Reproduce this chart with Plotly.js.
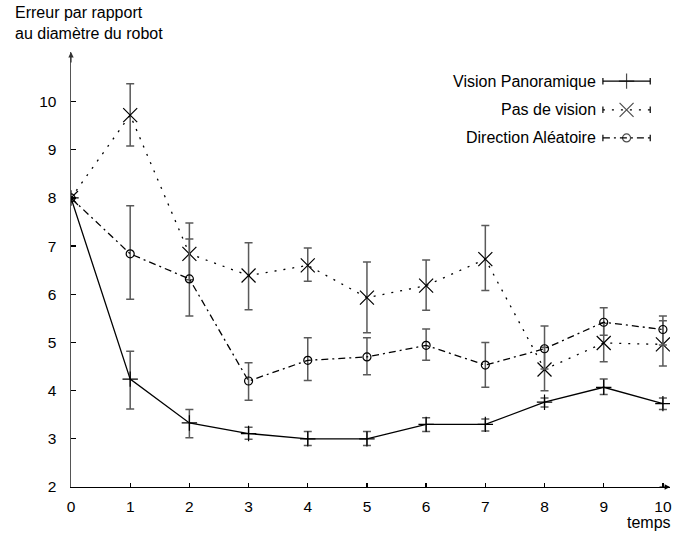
<!DOCTYPE html>
<html>
<head>
<meta charset="utf-8">
<script src="https://cdn.plot.ly/plotly-3.0.1.min.js"></script>
<style>html,body{margin:0;padding:0;background:#fff;}#chart{width:675px;height:533px;}</style>
</head>
<body>
<div id="chart"></div>
<script>
// ---- data ----
const temps = [0, 1, 2, 3, 4, 5, 6, 7, 8, 9, 10];
const xTickLabels = ["0","1","2","3","4","5","6","7","8","9","10"];
const yTickValues = [2, 3, 4, 5, 6, 7, 8, 9, 10];

const seriesNames = ["Vision Panoramique", "Pas de vision", "Direction Aléatoire"];

const visionY  = [8, 4.24, 3.33, 3.11, 3.00, 3.00, 3.30, 3.30, 3.76, 4.07, 3.73];
const visionLo = [8, 3.62, 3.02, 2.99, 2.86, 2.86, 3.15, 3.16, 3.66, 3.92, 3.61];
const visionHi = [8, 4.82, 3.61, 3.24, 3.15, 3.15, 3.44, 3.41, 3.85, 4.24, 3.85];

const pasY  = [8, 9.72, 6.84, 6.39, 6.60, 5.93, 6.18, 6.73, 4.44, 4.99, 4.96];
const pasLo = [8, 9.08, 6.30, 5.68, 6.27, 5.20, 5.67, 6.08, 4.00, 4.60, 4.51];
const pasHi = [8, 10.37, 7.15, 7.07, 6.96, 6.67, 6.71, 7.43, 4.90, 5.40, 5.45];

const dirY  = [8, 6.84, 6.32, 4.20, 4.63, 4.70, 4.94, 4.53, 4.87, 5.42, 5.27];
const dirLo = [8, 5.90, 5.55, 3.80, 4.21, 4.33, 4.63, 4.07, 4.45, 5.15, 4.95];
const dirHi = [8, 7.84, 7.48, 4.58, 5.10, 5.10, 5.28, 5.00, 5.34, 5.72, 5.55];

// ---- styles ----
const FONT = "Liberation Sans, Arial, Helvetica, sans-serif";
const TXT = 16, TICK = 15.5;
const errColor = "#5a5a5a";
const styles = [
  {dash: "solid", symbol: "cross-thin-open", size: 11},
  {dash: "2px,7px", symbol: "x-thin-open", size: 14},
  {dash: "7px,4px,2px,4px", symbol: "circle-open", size: 8}
];
const ys = [visionY, pasY, dirY];
const los = [visionLo, pasLo, dirLo];
const his = [visionHi, pasHi, dirHi];

const traces = [];
for (let i = 0; i < 3; i++) {
  traces.push({
    x: temps, y: ys[i], type: "scatter", mode: "lines+markers", name: seriesNames[i],
    line: {color: "#000", width: 1.3, dash: styles[i].dash},
    marker: {symbol: styles[i].symbol, size: styles[i].size, color: "#000",
             line: {color: "#000", width: 1.2}},
    error_y: {type: "data", symmetric: false,
              array: his[i].map((h, k) => h - ys[i][k]),
              arrayminus: los[i].map((l, k) => ys[i][k] - l),
              color: errColor, thickness: 1.5, width: 4},
    showlegend: false, hoverinfo: "skip"
  });
}

// ---- custom key (gnuplot style: text then sample) on an overlay axis in [0,1] ----
const keyRowsY = [0.933, 0.867, 0.8025];
const keyX0 = 0.888, keyX1 = 0.967, keyXm = (keyX0 + keyX1) / 2;
const capH = 0.0075;
const annotations = [];
for (let i = 0; i < 3; i++) {
  const ky = keyRowsY[i];
  traces.push({
    x: [keyX0, keyXm, keyX1], y: [ky, ky, ky], xaxis: "x2", yaxis: "y2",
    type: "scatter", mode: "lines+markers",
    line: {color: "#000", width: 1.2, dash: styles[i].dash},
    marker: {symbol: styles[i].symbol, size: [0, styles[i].size, 0], color: "#000",
             line: {color: "#000", width: 1.2}},
    showlegend: false, hoverinfo: "skip"
  });
  [keyX0, keyX1].forEach(cx => traces.push({
    x: [cx, cx], y: [ky - capH, ky + capH], xaxis: "x2", yaxis: "y2",
    type: "scatter", mode: "lines", line: {color: "#000", width: 1.2},
    showlegend: false, hoverinfo: "skip"
  }));
  annotations.push({
    xref: "paper", yref: "paper", x: 0.880, y: ky, xanchor: "right", yanchor: "middle",
    text: seriesNames[i], showarrow: false, font: {family: FONT, size: TXT, color: "#000"}
  });
}

// axis titles as free text (gnuplot placement)
annotations.push({xref: "paper", yref: "paper", x: -0.097, y: 1.091, xanchor: "left", yanchor: "middle",
  text: "Erreur par rapport", showarrow: false, font: {family: FONT, size: TXT, color: "#000"}});
annotations.push({xref: "paper", yref: "paper", x: -0.097, y: 1.043, xanchor: "left", yanchor: "middle",
  text: "au diamètre du robot", showarrow: false, font: {family: FONT, size: TXT, color: "#000"}});
annotations.push({xref: "paper", yref: "paper", x: 1.005, y: -0.082, xanchor: "right", yanchor: "middle",
  text: "temps", showarrow: false, font: {family: FONT, size: TXT, color: "#000"}});

// axis arrowheads
annotations.push({xref: "paper", yref: "paper", x: 0, y: 1, ax: 0, ay: 12, text: "",
  showarrow: true, arrowhead: 2, arrowsize: 0.9, arrowwidth: 1.2, arrowcolor: "#333"});
annotations.push({xref: "paper", yref: "paper", x: 1, y: 0, ax: -12, ay: 0, text: "",
  showarrow: true, arrowhead: 2, arrowsize: 0.9, arrowwidth: 1.2, arrowcolor: "#000"});

const layout = {
  width: 675, height: 533,
  margin: {l: 71, r: 5, t: 52, b: 46, pad: 0},
  paper_bgcolor: "#fff", plot_bgcolor: "#fff",
  font: {family: FONT, size: TICK, color: "#000"},
  showlegend: false,
  xaxis: {
    range: [0, 10.12], tickmode: "array", tickvals: temps, ticktext: xTickLabels,
    showgrid: false, zeroline: false, showline: true, linecolor: "#000", linewidth: 1.3,
    ticks: "inside", ticklen: 4, tickcolor: "#000", tickwidth: 1.3,
    ticklabelstandoff: 5, tickfont: {family: FONT, size: TICK, color: "#000"}
  },
  yaxis: {
    range: [2, 11.03], tickmode: "array", tickvals: yTickValues,
    showgrid: false, zeroline: false, showline: true, linecolor: "#555", linewidth: 1.5,
    ticks: "inside", ticklen: 5, tickcolor: "#000", tickwidth: 1.3,
    ticklabelstandoff: 10, tickfont: {family: FONT, size: TICK, color: "#000"}
  },
  xaxis2: {overlaying: "x", anchor: "y2", range: [0, 1], visible: false, fixedrange: true},
  yaxis2: {overlaying: "y", anchor: "x2", range: [0, 1], visible: false, fixedrange: true},
  annotations: annotations
};

Plotly.newPlot("chart", traces, layout, {displayModeBar: false, staticPlot: true});
</script>
</body>
</html>
